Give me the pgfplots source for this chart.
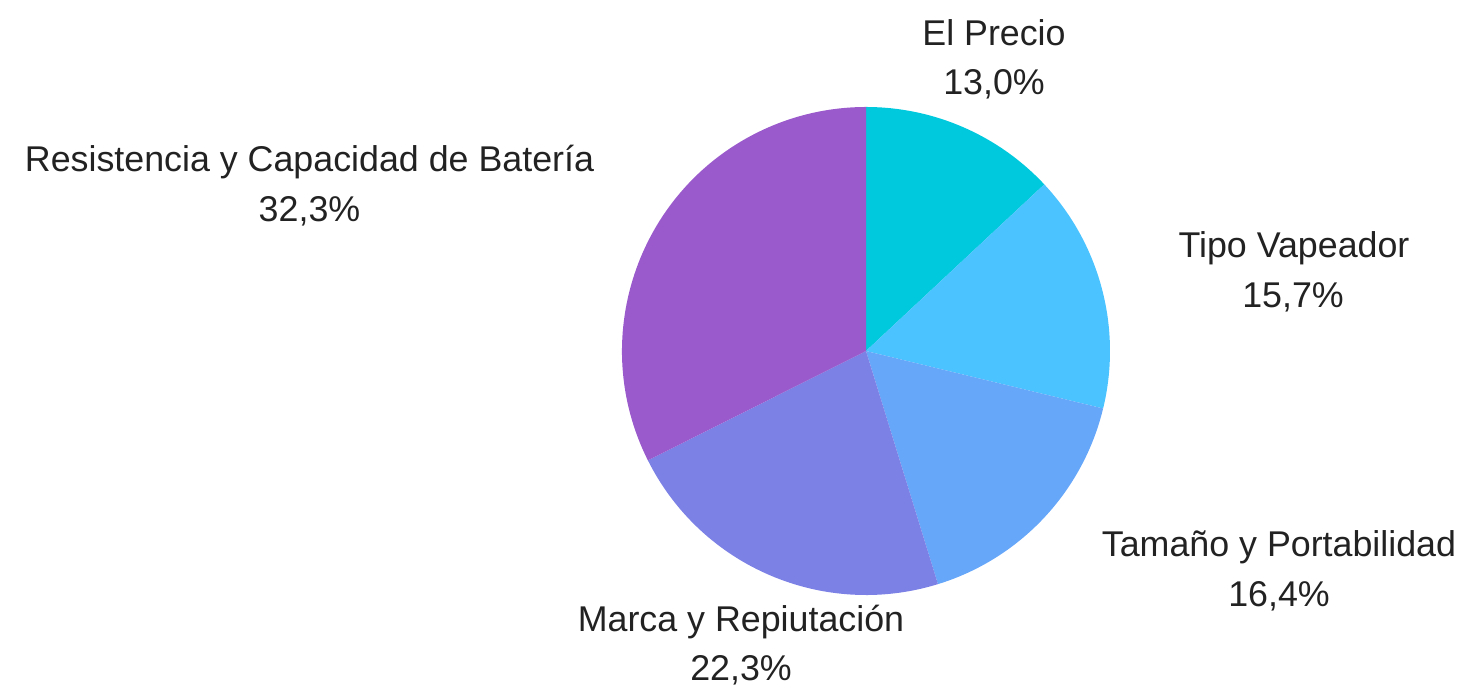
\documentclass[border=0pt]{standalone}
\usepackage{pgfplots}
\pgfplotsset{compat=1.18}
\usepackage{fontspec}
\setmainfont{Liberation Sans}
\definecolor{cA}{HTML}{00C9DD}
\definecolor{cB}{HTML}{4AC3FF}
\definecolor{cC}{HTML}{67A7FA}
\definecolor{cD}{HTML}{7C81E6}
\definecolor{cE}{HTML}{9A5ACC}
\definecolor{txt}{HTML}{222222}
\tikzset{lbl/.style={font=\fontsize{35.8}{51}\selectfont,text=txt,anchor=base,inner sep=0pt,overlay}}
\begin{document}
\begin{tikzpicture}
\begin{axis}[x=1pt,y=1pt,xmin=0,xmax=1468,ymin=0,ymax=687,hide axis,clip=false]
\pgfplotsextra{
  \path (axis cs:0,0) rectangle (axis cs:1468,687);
  \foreach \v/\c [remember=\en as \st (initially 90)] in {13.0/cA,15.7/cB,16.4/cC,22.3/cD,32.3/cE}{
    \pgfmathsetmacro{\en}{\st-\v/99.7*360}
    \fill[\c] (axis cs:866,336) -- ++(\st:244pt) arc[start angle=\st,end angle=\en,radius=244pt] -- cycle;
  }
}
\node[lbl] at (axis cs:994,641) {El Precio};
\node[lbl] at (axis cs:994,592) {13,0\%};
\node[lbl] at (axis cs:1294,429) {Tipo Vapeador};
\node[lbl] at (axis cs:1293,379) {15,7\%};
\node[lbl] at (axis cs:1279,130) {Tamaño y Portabilidad};
\node[lbl] at (axis cs:1279,80) {16,4\%};
\node[lbl] at (axis cs:741,55) {Marca y Repiutación};
\node[lbl] at (axis cs:741,6) {22,3\%};
\node[lbl] at (axis cs:309.5,515) {Resistencia y Capacidad de Batería};
\node[lbl] at (axis cs:309.5,465) {32,3\%};
\end{axis}
\end{tikzpicture}
\end{document}
